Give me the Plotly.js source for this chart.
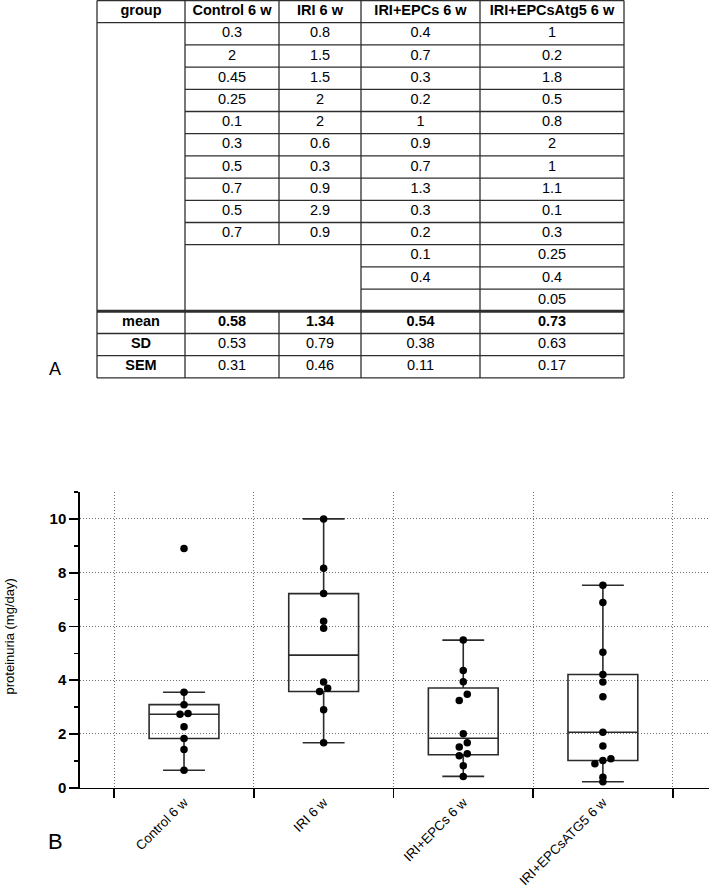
<!DOCTYPE html>
<html><head><meta charset="utf-8">
<script src="https://cdn.plot.ly/plotly-3.0.1.min.js"></script>
<style>html,body{margin:0;padding:0;background:#fff}#chart{width:709px;height:891px}</style>
</head><body><div id="chart"></div>
<script>
// ---------- Panel A: table data ----------
const tableHeader = ['group', 'Control 6 w', 'IRI 6 w', 'IRI+EPCs 6 w', 'IRI+EPCsAtg5 6 w'];
const tableControl = [0.3, 2, 0.45, 0.25, 0.1, 0.3, 0.5, 0.7, 0.5, 0.7];
const tableIRI = [0.8, 1.5, 1.5, 2, 2, 0.6, 0.3, 0.9, 2.9, 0.9];
const tableEPCs = [0.4, 0.7, 0.3, 0.2, 1, 0.9, 0.7, 1.3, 0.3, 0.2, 0.1, 0.4];
const tableAtg5 = [1, 0.2, 1.8, 0.5, 0.8, 2, 1, 1.1, 0.1, 0.3, 0.25, 0.4, 0.05];
const statNames = ['mean', 'SD', 'SEM'];
const statMean = ['0.58', '1.34', '0.54', '0.73'];
const statSD = ['0.53', '0.79', '0.38', '0.63'];
const statSEM = ['0.31', '0.46', '0.11', '0.17'];

// ---------- Panel B: box plot data (proteinuria, mg/day) ----------
const groups = ['Control 6 w', 'IRI 6 w', 'IRI+EPCs 6 w', 'IRI+EPCsATG5 6 w'];
const protControl = [0.65, 1.42, 1.83, 2.27, 2.73, 2.76, 3.09, 3.55, 8.9];
const protIRI = [1.67, 2.90, 3.58, 3.70, 3.93, 5.93, 6.19, 7.22, 8.16, 10.0];
const protEPCs = [0.42, 0.82, 1.19, 1.26, 1.51, 1.67, 2.01, 3.24, 3.48, 3.94, 4.36, 5.49];
const protAtg5 = [0.22, 0.39, 0.89, 1.01, 1.08, 1.55, 2.06, 3.38, 3.93, 4.21, 5.04, 6.89, 7.53];
// beeswarm slot of each dot
const swarmControl = [0, 0, 0, 0, -0.5, 0.5, 0, 0, 0];
const swarmIRI = [0, 0, -0.5, 0.5, 0, 0, 0, 0, 0, 0];
const swarmEPCs = [0, 0, -0.5, 0.5, -0.5, 0.5, 0, -0.5, 0.5, 0, 0, 0];
const swarmAtg5 = [0, 0, -1, 0, 1, 0, 0, 0, 0, 0, 0, 0, 0];

// ---------- layout constants ----------
const W = 709, H = 891;
const FONT = 'Liberation Sans, Arial, Helvetica, sans-serif';
const colW = [88, 94, 82, 119, 144];
const TABLE_LEFT = 97, TABLE_TOP = 0.5, ROW_H = 22.2, TABLE_AREA_BOTTOM = 400;
const LINE_C = '#2e2e2e';
const PLOT_L = 80, PLOT_TOP = 492, PLOT_BOT = 787.7;
const XR = [-0.745, 3.76];
const SWARM_STEP_PX = 8;

// ---------- table construction ----------
const colEdges = [0];
colW.forEach(w => colEdges.push(colEdges[colEdges.length - 1] + w));
const colCenter = colW.map((w, i) => colEdges[i] + w / 2);
const tableCols = [tableControl, tableIRI, tableEPCs, tableAtg5];
const maxN = Math.max(...tableCols.map(c => c.length));
const statRow = 1 + maxN;          // first stats row index
const nRows = statRow + statNames.length;
const right = colEdges[colEdges.length - 1];

const shapes = [];
function seg(x0, y0, x1, y1, w) {
  shapes.push({type: 'line', xref: 'x3', yref: 'y3', x0, y0, x1, y1,
    line: {color: LINE_C, width: w || 1.3}, layer: 'above'});
}
// vertical lines
[0, 1, 3, 4, 5].forEach(i => seg(colEdges[i], 0, colEdges[i], nRows));
seg(colEdges[2], 0, colEdges[2], 1 + Math.max(tableControl.length, tableIRI.length));
seg(colEdges[2], statRow, colEdges[2], nRows);
// horizontal lines
seg(0, 0, right, 0);
seg(0, 1, right, 1);
for (let k = 2; k < statRow; k++) {
  tableCols.forEach((c, ci) => {
    if (k <= c.length + 1) seg(colEdges[ci + 1], k, colEdges[ci + 2], k);
  });
}
seg(0, statRow, right, statRow, 3);
for (let k = statRow + 1; k <= nRows; k++) seg(0, k, right, k);

// table text
const tx = [], ty = [], tt = [];
tableHeader.forEach((h, i) => { tx.push(colCenter[i]); ty.push(0.5); tt.push('<b>' + h + '</b>'); });
tableCols.forEach((c, ci) => c.forEach((v, r) => {
  tx.push(colCenter[ci + 1]); ty.push(1.5 + r); tt.push(String(v));
}));
statNames.forEach((s, si) => { tx.push(colCenter[0]); ty.push(statRow + si + 0.5); tt.push('<b>' + s + '</b>'); });
[statMean, statSD, statSEM].forEach((arr, si) => arr.forEach((v, ci) => {
  tx.push(colCenter[ci + 1]); ty.push(statRow + si + 0.5); tt.push(si === 0 ? '<b>' + v + '</b>' : v);
}));

// ---------- box plot construction ----------
const protData = [protControl, protIRI, protEPCs, protAtg5];
const swarm = [swarmControl, swarmIRI, swarmEPCs, swarmAtg5];
const boxX = [], boxY = [];
protData.forEach((arr, gi) => arr.forEach(v => { boxX.push(groups[gi]); boxY.push(v); }));
const pxPerUnit = (W - PLOT_L) / (XR[1] - XR[0]);
const dotX = [], dotY = [];
protData.forEach((arr, gi) => arr.forEach((v, i) => {
  dotX.push(gi + swarm[gi][i] * SWARM_STEP_PX / pxPerUnit); dotY.push(v);
}));

const traces = [
  {type: 'box', x: boxX, y: boxY, xaxis: 'x', yaxis: 'y',
   quartilemethod: 'inclusive', boxpoints: 'outliers', marker: {opacity: 0},
   width: 0.5, whiskerwidth: 0.6, fillcolor: 'rgba(0,0,0,0)',
   line: {color: '#2b2b2b', width: 1.6}, hoverinfo: 'skip', showlegend: false},
  {type: 'scatter', mode: 'markers', x: dotX, y: dotY, xaxis: 'x2', yaxis: 'y',
   marker: {color: '#000', size: 7.5}, cliponaxis: false, hoverinfo: 'skip', showlegend: false},
  {type: 'scatter', mode: 'text', x: tx, y: ty, text: tt, xaxis: 'x3', yaxis: 'y3',
   textposition: 'middle center', textfont: {family: FONT, size: 14.5, color: '#000'},
   cliponaxis: false, hoverinfo: 'skip', showlegend: false}
];

const layout = {
  width: W, height: H, margin: {l: 0, r: 0, t: 0, b: 0},
  paper_bgcolor: '#fff', plot_bgcolor: 'rgba(0,0,0,0)', showlegend: false,
  font: {family: FONT, color: '#000'},
  xaxis: {domain: [PLOT_L / W, 1], range: XR, type: 'category', categoryorder: 'array', categoryarray: groups,
    tickson: 'boundaries', ticks: 'outside', ticklen: 9, tickwidth: 1.7, tickcolor: '#000',
    showline: true, linecolor: '#000', linewidth: 1.7, showgrid: true, gridcolor: '#707070',
    gridwidth: 1, griddash: '1px,2px', tickangle: -45, zeroline: false, anchor: 'y',
    tickfont: {family: FONT, size: 13.3, color: '#000'}, fixedrange: true},
  xaxis2: {overlaying: 'x', range: XR, type: 'linear', visible: false, anchor: 'y', fixedrange: true},
  yaxis: {domain: [1 - PLOT_BOT / H, 1 - PLOT_TOP / H], range: [0, 11], tick0: 0, dtick: 2,
    ticks: 'outside', ticklen: 9, tickwidth: 1.7, tickcolor: '#000',
    showline: true, linecolor: '#000', linewidth: 1.7, showgrid: true, gridcolor: '#707070',
    gridwidth: 1, griddash: '1px,2px', zeroline: false, anchor: 'x',
    tickfont: {family: FONT, size: 15, color: '#000', weight: 'bold'},
    minor: {dtick: 1, tick0: 0, ticks: 'outside', ticklen: 4.5, tickwidth: 1.5, tickcolor: '#000', showgrid: false},
    fixedrange: true},
  xaxis3: {domain: [0, 1], range: [-TABLE_LEFT, W - TABLE_LEFT], visible: false, anchor: 'y3', fixedrange: true},
  yaxis3: {domain: [1 - TABLE_AREA_BOTTOM / H, 1],
    range: [(TABLE_AREA_BOTTOM - TABLE_TOP) / ROW_H, -TABLE_TOP / ROW_H], visible: false, anchor: 'x3', fixedrange: true},
  shapes: shapes,
  annotations: [
    {text: 'A', xref: 'paper', yref: 'paper', x: 54.5 / W, y: 1 - 368.5 / H, showarrow: false,
     xanchor: 'center', yanchor: 'middle', font: {family: FONT, size: 18, color: '#000'}},
    {text: 'B', xref: 'paper', yref: 'paper', x: 55 / W, y: 1 - 841 / H, showarrow: false,
     xanchor: 'center', yanchor: 'middle', font: {family: FONT, size: 22, color: '#000'}},
    {text: 'proteinuria (mg/day)', xref: 'paper', yref: 'paper', x: 8.5 / W, y: 1 - 637 / H,
     showarrow: false, textangle: -90, xanchor: 'center', yanchor: 'middle',
     font: {family: FONT, size: 13, color: '#000'}}
  ]
};

Plotly.newPlot('chart', traces, layout, {staticPlot: true, displayModeBar: false});
</script>
</body></html>
